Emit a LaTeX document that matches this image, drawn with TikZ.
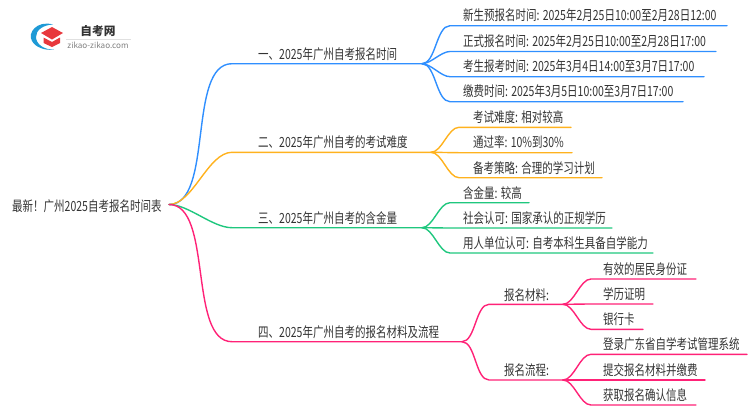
\documentclass[tikz,border=0pt]{standalone}
\usepackage{fontspec}
\setmainfont[FakeStretch=0.75]{Noto Sans CJK SC}
\newfontfamily\logofont{Noto Sans CJK SC}
\definecolor{linkblue}{HTML}{2F8FFF}
\definecolor{linkorange}{HTML}{FFB21E}
\definecolor{linkgreen}{HTML}{1FC77E}
\definecolor{linkpink}{HTML}{FF2277}
\definecolor{logoblue}{HTML}{1E9AD6}
\definecolor{logored}{HTML}{E8383D}
\definecolor{inkgray}{HTML}{333333}
\tikzset{
  lab/.style={anchor=west, inner sep=0pt, text=inkgray, font=\fontsize{14}{16}\selectfont},
  link/.style={out=0, in=180, looseness=0.75},
  edge/.style={line width=1.4pt, line cap=round},
}
\begin{document}
\begin{tikzpicture}[x=1pt, y=-1pt]
  \useasboundingbox (0,0) rectangle (750,410);

  % logo
  \fill[logoblue] (53,24.5) .. controls (37,20) and (27,33) .. (32,41) .. controls (35,47) and (45,51) .. (54,49.5) .. controls (44,50) and (36,44) .. (36,37) .. controls (36,30) and (43,25) .. (53,24.5) -- cycle;
  \fill[logored] (52,27) -- (63,33) -- (52,39.5) -- (41,33) -- cycle;
  \fill[logored] (43.5,37.5) -- (52,42) -- (60,37.5) -- (60,43) -- (52,47) -- (43.5,43) -- cycle;
  \node[anchor=center, inner sep=0pt, text=inkgray, font=\logofont\fontsize{11.7}{13}\selectfont\bfseries] (logotitle) at (98,31) {自考网};
  \node[anchor=center, inner sep=0pt, text=gray, font=\logofont\fontsize{8.1}{9}\selectfont] (logourl) at (98,45) {zikao-zikao.com};
  \draw[black!12, line width=0.6pt] (66,39) -- (131,39);

  % root and first level
  \node[lab] (root) at (12,206) {最新！广州2025自考报名时间表};
  \coordinate (rootj) at (169,204.5);

  \coordinate (Aa) at (232,63.7);  \coordinate (Ab) at (422,63.7);
  \coordinate (Ba) at (232,152.3); \coordinate (Bb) at (431,152.3);
  \coordinate (Ca) at (232,227.7); \coordinate (Cb) at (422,227.7);
  \coordinate (Da) at (232,341.7); \coordinate (Db) at (462,341.7);

  \node[lab] (A) at (258,54) {一、2025年广州自考报名时间};
  \node[lab] (B) at (258,142.5) {二、2025年广州自考的考试难度};
  \node[lab] (C) at (258,218) {三、2025年广州自考的含金量};
  \node[lab] (D) at (258,332) {四、2025年广州自考的报名材料及流程};

  \draw[edge, linkblue] (rootj) to[link] (Aa) -- (Ab);
  \draw[edge, linkorange] (rootj) to[link] (Ba) -- (Bb);
  \draw[edge, linkgreen] (rootj) to[link] (Ca) -- (Cb);
  \draw[edge, linkpink] (rootj) to[link] (Da) -- (Db);

  % blue leaves
  \node[lab] (A1) at (463,15.5) {新生预报名时间: 2025年2月25日10:00至2月28日12:00};
  \node[lab] (A2) at (463,40.7) {正式报名时间: 2025年2月25日10:00至2月28日17:00};
  \node[lab] (A3) at (463,66) {考生报考时间: 2025年3月4日14:00至3月7日17:00};
  \node[lab] (A4) at (463,91) {缴费时间: 2025年3月5日10:00至3月7日17:00};
  \draw[edge, linkblue] (Ab) to[link] (450,25.7) -- (727,25.7);
  \draw[edge, linkblue] (Ab) to[link] (450,51.5) -- (716,51.5);
  \draw[edge, linkblue] (Ab) to[link] (450,76.7) -- (704,76.7);
  \draw[edge, linkblue] (Ab) to[link] (450,101.7) -- (683,101.7);

  % orange leaves
  \node[lab] (B1) at (473,117) {考试难度: 相对较高};
  \node[lab] (B2) at (473,142.5) {通过率: 10\%到30\%};
  \node[lab] (B3) at (473,168) {备考策略: 合理的学习计划};
  \draw[edge, linkorange] (Bb) to[link] (459,127.3) -- (571,127.3);
  \draw[edge, linkorange] (Bb) to[link] (459,152.7) -- (572,152.7);
  \draw[edge, linkorange] (Bb) to[link] (459,177.7) -- (602,177.7);

  % green leaves
  \node[lab] (C1) at (463,193) {含金量: 较高};
  \node[lab] (C2) at (463,218) {社会认可: 国家承认的正规学历};
  \node[lab] (C3) at (463,243) {用人单位认可: 自考本科生具备自学能力};
  \draw[edge, linkgreen] (Cb) to[link] (450,202.7) -- (529,202.7);
  \draw[edge, linkgreen] (Cb) to[link] (450,228) -- (612,228);
  \draw[edge, linkgreen] (Cb) to[link] (450,253) -- (653,253);

  % pink second level
  \node[lab] (D1) at (504,295) {报名材料:};
  \node[lab] (D2) at (504,370) {报名流程:};
  \coordinate (D1a) at (489,304.3); \coordinate (D1b) at (563,304.3);
  \coordinate (D2a) at (489,380);   \coordinate (D2b) at (563,380);
  \draw[edge, linkpink] (Db) to[link] (D1a) -- (D1b);
  \draw[edge, linkpink] (Db) to[link] (D2a) -- (D2b);

  % pink leaves
  \node[lab] (D11) at (603,269) {有效的居民身份证};
  \node[lab] (D12) at (603,294) {学历证明};
  \node[lab] (D13) at (603,319.5) {银行卡};
  \node[lab] (D21) at (603,344.5) {登录广东省自学考试管理系统};
  \node[lab] (D22) at (603,370) {提交报名材料并缴费};
  \node[lab] (D23) at (603,395) {获取报名确认信息};
  \draw[edge, linkpink] (D1b) to[link] (591,279) -- (696,279);
  \draw[edge, linkpink] (D1b) to[link] (591,304) -- (653,304);
  \draw[edge, linkpink] (D1b) to[link] (591,329.3) -- (643,329.3);
  \draw[edge, linkpink] (D2b) to[link] (591,354.3) -- (747,354.3);
  \draw[edge, linkpink] (D2b) to[link] (591,380) -- (705,380);
  \draw[edge, linkpink] (D2b) to[link] (591,405) -- (696,405);
\end{tikzpicture}
\end{document}
